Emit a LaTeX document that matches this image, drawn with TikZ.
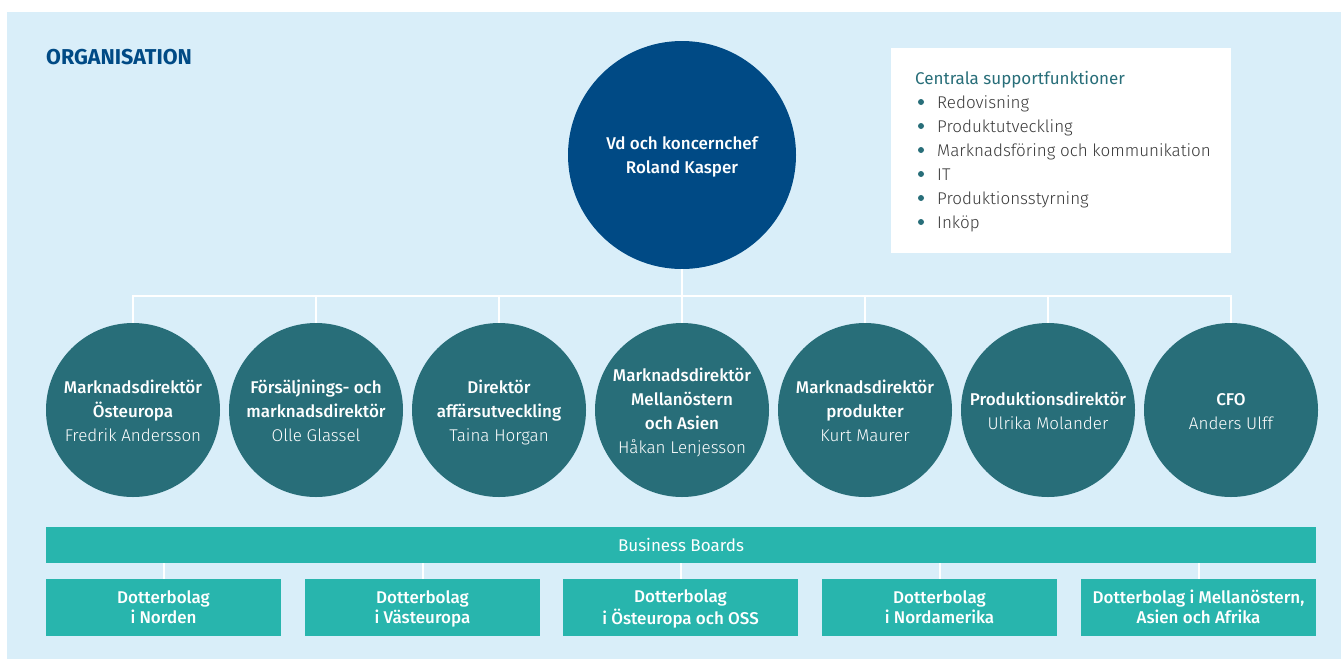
\documentclass[tikz,border=0pt]{standalone}
\usepackage{fontspec}
\setmainfont{Fira Sans}
\newfontfamily\medf{Fira Sans Medium}
\newfontfamily\lightf{Fira Sans Light}
\definecolor{bgblue}{HTML}{D9EEF9}
\definecolor{navy}{HTML}{004A85}
\definecolor{circteal}{HTML}{286E79}
\definecolor{boxteal}{HTML}{28B5AD}
\definecolor{txtgray}{HTML}{3A3A3A}
\tikzset{
  conn/.style={draw=white, line width=2pt},
  ceo/.style={circle, fill=navy, minimum size=228pt, inner sep=0pt, text=white, align=center, font=\medf\fontsize{17}{24}\selectfont},
  mgr/.style={circle, fill=circteal, minimum size=174pt, inner sep=0pt, text=white, align=center, font=\medf\fontsize{17}{24}\selectfont},
  subbox/.style={fill=boxteal, minimum width=235pt, minimum height=57pt, inner sep=0pt, text=white, align=center, font=\medf\fontsize{17}{20}\selectfont},
  bul/.style={circle, fill=circteal, minimum size=6pt, inner sep=0pt},
  item/.style={anchor=base west, inner sep=0pt, text=txtgray, font=\lightf\fontsize{17}{20}\selectfont}
}
\newcommand{\nm}[1]{{\lightf #1}}
\begin{document}
\begin{tikzpicture}[x=1pt,y=-1pt]
\useasboundingbox (0,0) rectangle (1341,659);
\fill[bgblue] (7,12) rectangle (1341,659);

\node[anchor=west, inner sep=0pt, text=navy, font=\bfseries\fontsize{21.5}{24}\selectfont] (org) at (46,57) {ORGANISATION};

% support box
\node[fill=white, minimum width=340pt, minimum height=205pt, inner sep=0pt] (sup) at (1061,150.5) {};
\node[anchor=base west, inner sep=0pt, text=circteal, font=\fontsize{17}{20}\selectfont] (suptitle) at (915,84) {Centrala supportfunktioner};
\foreach \t [count=\i] in {Redovisning,Produktutveckling,Marknadsföring och kommunikation,IT,Produktionsstyrning,Inköp}{
  \node[bul] (b\i) at (921,{78+24*\i}) {};
  \node[item] (it\i) at (937,{84+24*\i}) {\t};
}

% CEO
\node[ceo] (vd) at (682,155) {};
\node[text=white, align=center, font=\medf\fontsize{17}{24}\selectfont, inner sep=0pt] (vdt) at (682,157) {\strut Vd och koncernchef\\Roland Kasper\strut};

% managers
\node[mgr] (m1) at (133,410) {};
\node[mgr] (m2) at (316,410) {};
\node[mgr] (m3) at (499,410) {};
\node[mgr] (m4) at (682,410) {};
\node[mgr] (m5) at (865,410) {};
\node[mgr] (m6) at (1048,410) {};
\node[mgr] (m7) at (1231,410) {};
\tikzset{mtext/.style={text=white, align=center, inner sep=0pt, font=\medf\fontsize{17}{24}\selectfont}}
\node[mtext] (t1) at (133,413) {\strut Marknadsdirektör\\Östeuropa\\\nm{Fredrik Andersson}\strut};
\node[mtext] (t2) at (316,413) {\strut Försäljnings- och\\marknadsdirektör\\\nm{Olle Glassel}\strut};
\node[mtext] (t3) at (499,413) {\strut Direktör\\affärsutveckling\\\nm{Taina Horgan}\strut};
\node[mtext] (t4) at (682,413) {\strut Marknadsdirektör\\Mellanöstern\\och Asien\\\nm{Håkan Lenjesson}\strut};
\node[mtext] (t5) at (865,413) {\strut Marknadsdirektör\\produkter\\\nm{Kurt Maurer}\strut};
\node[mtext] (t6) at (1048,413) {\strut Produktionsdirektör\\\nm{Ulrika Molander}\strut};
\node[mtext] (t7) at (1231,413) {\strut CFO\\\nm{Anders Ulff}\strut};

\coordinate (bus) at (682,296);
\draw[conn] (vd.south) -- (bus);
\draw[conn] (m1.north) -- (m1.north |- bus) -- (m7.north |- bus) -- (m7.north);
\foreach \i in {2,...,6}{\draw[conn] (m\i.north) -- (m\i.north |- bus);}

% business boards
\node[fill=boxteal, minimum width=1270pt, minimum height=36pt, inner sep=0pt, text=white, font=\fontsize{17}{20}\selectfont] (bb) at (681,545) {Business Boards};

\node[subbox] (d1) at (163.5,607.5) {};
\node[subbox] (d2) at (422.5,607.5) {};
\node[subbox] (d3) at (680.5,607.5) {};
\node[subbox] (d4) at (939.5,607.5) {};
\node[subbox] (d5) at (1198.5,607.5) {};
\tikzset{dtext/.style={text=white, align=center, inner sep=0pt, font=\medf\fontsize{17}{20}\selectfont}}
\node[dtext] (dt1) at (163.5,609.5) {\strut Dotterbolag\\i Norden\strut};
\node[dtext] (dt2) at (422.5,609.5) {\strut Dotterbolag\\i Västeuropa\strut};
\node[dtext] (dt3) at (680.5,609.5) {\strut Dotterbolag\\i Östeuropa och OSS\strut};
\node[dtext] (dt4) at (939.5,609.5) {\strut Dotterbolag\\i Nordamerika\strut};
\node[dtext] (dt5) at (1198.5,609.5) {\strut Dotterbolag i Mellanöstern,\\Asien och Afrika\strut};
\foreach \i in {1,...,5}{\draw[conn] (d\i.north) -- (d\i.north |- bb.south);}
\end{tikzpicture}
\end{document}
